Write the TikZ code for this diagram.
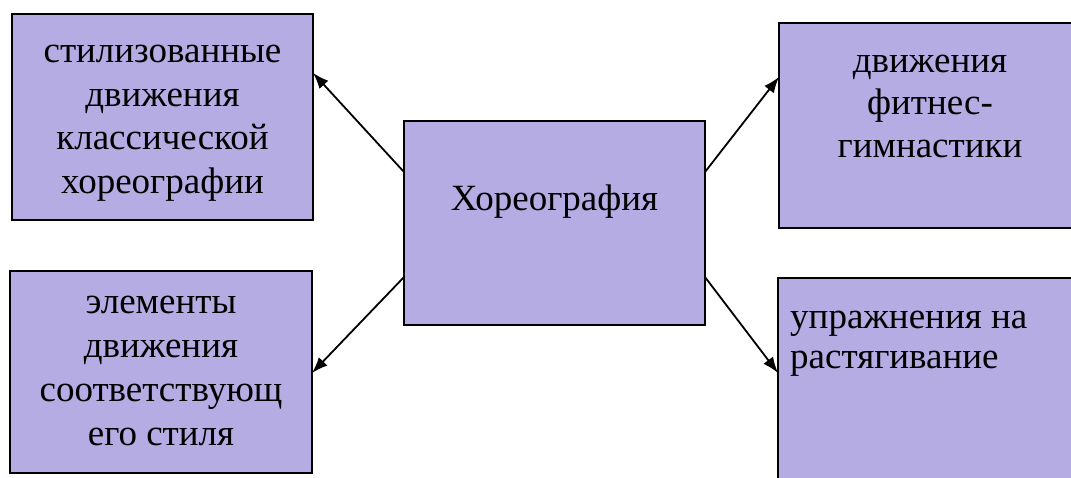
\documentclass[tikz,border=0pt]{standalone}
\usepackage{fontspec}
\setmainfont{Liberation Serif}
\usetikzlibrary{calc,arrows.meta}
\definecolor{boxfill}{RGB}{180,172,226}
\tikzset{
  box/.style={draw=black, line width=2pt, fill=boxfill, inner sep=0pt, outer sep=0pt},
  txt/.style={inner sep=0pt, anchor=base, align=center, font=\fontsize{37}{43.5}\selectfont},
  conn/.style={line width=1.8pt, -{Latex[length=16pt,width=12pt]}},
}
\begin{document}
\begin{tikzpicture}[x=1pt,y=-1pt]
\path[use as bounding box, fill=white] (0,0) rectangle (1071,477);
\clip (0,0) rectangle (1071,477);
\node[box, minimum width=301pt, minimum height=206pt] (tl) at (162.5,117) {};
\node[txt] (tlt) at (162.5,193) {стилизованные\\движения\\классической\\хореографии};
\node[box, minimum width=302pt, minimum height=202pt] (bl) at (161,372) {};
\node[txt, font=\fontsize{37}{44}\selectfont] (blt) at (161,445) {элементы\\движения\\соответствующ\\его стиля};
\node[box, minimum width=301pt, minimum height=204pt] (c) at (554.5,223) {};
\node[txt] (ct) at (554.5,210) {Хореография};
\node[box, minimum width=302pt, minimum height=205pt] (tr) at (930,125.5) {};
\node[txt, font=\fontsize{37}{42.5}\selectfont] (trt) at (930,157) {движения\\фитнес-\\гимнастики};
\node[box, minimum width=303pt, minimum height=212pt] (br) at (929.5,384) {};
\node[txt, font=\fontsize{37}{40}\selectfont, align=left, anchor=base west] (brt) at (790,368)
  {упражнения на\\растягивание};
\draw[conn] ($(c.north west)!0.25!(c.south west)$) -- ($(tl.north east)!0.286!(tl.south east)$);
\draw[conn] ($(c.north west)!0.765!(c.south west)$) -- ($(bl.north east)!0.505!(bl.south east)$);
\draw[conn] ($(c.north east)!0.25!(c.south east)$) -- ($(tr.north west)!0.263!(tr.south west)$);
\draw[conn] ($(c.north east)!0.765!(c.south east)$) -- ($(br.north west)!0.448!(br.south west)$);
\end{tikzpicture}
\end{document}
